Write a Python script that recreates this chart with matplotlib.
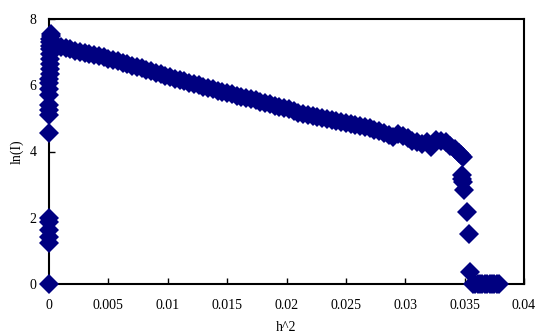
import numpy as np
import matplotlib
matplotlib.use('Agg')
import matplotlib.pyplot as plt

# points stacked near h^2 = 0
x_start = [0.0, 0.0, 0.0, 0.0, 0.0, 0.0, 0.0, 0.0, 0.0, 0.0, 0.0, 0.00002,
           0.00003, 0.00004, 0.00005, 0.00006, 0.00007, 0.00008, 0.00009,
           0.0001, 0.0001, 0.00011, 0.00012, 0.00013, 0.00014]
y_start = [0.0, 1.24, 1.42, 1.63, 1.87, 1.99, 4.55, 5.1, 5.26, 5.4, 5.7, 5.9,
           6.06, 6.2, 6.35, 6.5, 6.65, 6.8, 6.95, 7.1, 7.2, 7.3, 7.4, 7.5, 7.56]

# main decaying band
x_main = [0.0006, 0.0010, 0.0014, 0.0018, 0.0022, 0.0026, 0.0030, 0.0034,
          0.0038, 0.0042, 0.0046, 0.0050, 0.0054, 0.0058, 0.0062, 0.0066,
          0.0070, 0.0074, 0.0078, 0.0082, 0.0086, 0.0090, 0.0094, 0.0098,
          0.0102, 0.0106, 0.0110, 0.0114, 0.0118, 0.0122, 0.0126, 0.0130,
          0.0134, 0.0138, 0.0142, 0.0146, 0.0150, 0.0154, 0.0158, 0.0162,
          0.0166, 0.0170, 0.0174, 0.0178, 0.0182, 0.0186, 0.0190, 0.0194,
          0.0198, 0.0202, 0.0206, 0.0210, 0.0214, 0.0218, 0.0222, 0.0226,
          0.0230, 0.0234, 0.0238, 0.0242, 0.0246, 0.0250, 0.0254, 0.0258,
          0.0262, 0.0266, 0.0270, 0.0274, 0.0278, 0.0282, 0.0286, 0.0290,
          0.0294, 0.0298, 0.0302, 0.0306, 0.0310, 0.0314, 0.0318, 0.0322,
          0.0326, 0.0330, 0.0334, 0.0338, 0.0342, 0.0345, 0.0347, 0.0349]
y_main = [7.22, 7.16, 7.12, 7.08, 7.04, 7.01, 6.98, 6.95,
          6.92, 6.88, 6.84, 6.80, 6.76, 6.72, 6.68, 6.63,
          6.59, 6.55, 6.51, 6.47, 6.42, 6.38, 6.33, 6.28,
          6.24, 6.20, 6.16, 6.12, 6.08, 6.04, 6.00, 5.96,
          5.92, 5.88, 5.84, 5.80, 5.77, 5.73, 5.69, 5.65,
          5.61, 5.58, 5.54, 5.50, 5.46, 5.42, 5.38, 5.34,
          5.31, 5.27, 5.22, 5.16, 5.13, 5.10, 5.07, 5.04,
          5.01, 4.98, 4.94, 4.91, 4.88, 4.85, 4.83, 4.80,
          4.77, 4.74, 4.70, 4.66, 4.61, 4.56, 4.50, 4.44,
          4.52, 4.46, 4.40, 4.33, 4.28, 4.24, 4.30, 4.14,
          4.36, 4.32, 4.28, 4.18, 4.08, 3.96, 3.90, 3.84]

# sharp drop and zeros at the end
x_end = [0.03474, 0.0348, 0.03485, 0.03495, 0.03517, 0.03537, 0.03545,
         0.0357, 0.0359, 0.0361, 0.0363, 0.0365, 0.0367, 0.0369, 0.0371,
         0.0373, 0.0375, 0.0377, 0.0379]
y_end = [3.29, 3.16, 3.09, 2.84, 2.18, 1.51, 0.37,
         0.0, 0.0, 0.0, 0.0, 0.0, 0.0, 0.0, 0.0,
         0.0, 0.0, 0.0, 0.0]

x_ticks = [0, 0.005, 0.01, 0.015, 0.02, 0.025, 0.03, 0.035, 0.04]
x_labels = ['0', '0.005', '0.01', '0.015', '0.02', '0.025', '0.03', '0.035', '0.04']
y_ticks = [0, 2, 4, 6, 8]

x = np.array(x_start + x_main + x_end)
y = np.array(y_start + y_main + y_end)

plt.rcParams['font.family'] = ['Liberation Serif', 'DejaVu Serif']

fig = plt.figure(figsize=(5.37, 3.33), dpi=100)
ax = fig.add_axes([49 / 537, 49 / 333, 475 / 537, 265 / 333])

ax.plot(x, y, linestyle='none', marker='D', markersize=9.8,
        color='#000080', markeredgewidth=0, clip_on=False, zorder=3)

ax.set_xlim(0, 0.04)
ax.set_ylim(0, 8)
ax.set_xticks(x_ticks)
ax.set_xticklabels(x_labels)
ax.set_yticks(y_ticks)
ax.tick_params(direction='in', length=4, width=1, labelsize=10, colors='black')
ax.tick_params(axis='x', pad=11)
ax.tick_params(axis='y', pad=9)
for s in ax.spines.values():
    s.set_linewidth(1.5)
    s.set_color('black')

ax.set_xlabel('h^2', fontsize=10, labelpad=6)
ax.set_ylabel('ln(I)', fontsize=10, labelpad=4)

fig.savefig('out.png', dpi=100)
